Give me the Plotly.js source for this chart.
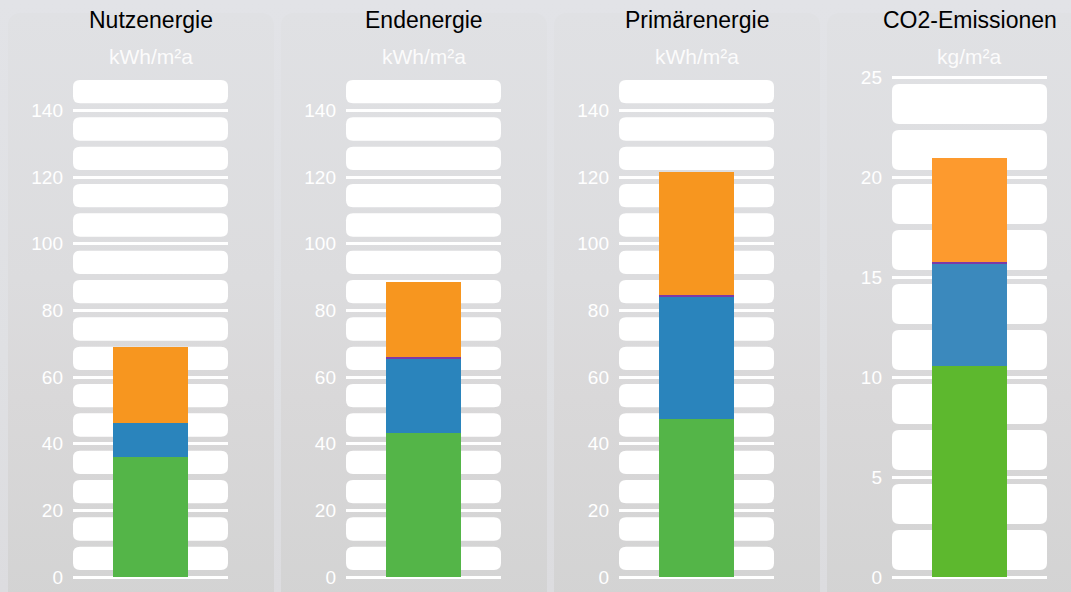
<!DOCTYPE html>
<html>
<head>
<meta charset="utf-8">
<script src="https://cdn.plot.ly/plotly-3.0.1.min.js"></script>
<style>
  html, body { margin: 0; padding: 0; }
  body { width: 1071px; height: 592px; overflow: hidden; position: relative;
         background: linear-gradient(to bottom, #e2e3e7 0%, #dfe0e3 60%, #dcdcdf 100%); }
  .panel { position: absolute; top: 13px; width: 266px; height: 590px; border-radius: 12px;
           background: linear-gradient(to bottom, #e0e1e4 0%, #dcdcde 45%, #d9d8d9 65%, #d3d3d3 100%); }
  #chart { position: absolute; left: 0; top: 0; width: 1071px; height: 592px; }
</style>
</head>
<body>
<div class="panel" style="left:8px"></div>
<div class="panel" style="left:281px"></div>
<div class="panel" style="left:554px"></div>
<div class="panel" style="left:827px"></div>
<div id="chart"></div>
<script>
// ---- data ----
const categories = ['Nutzenergie', 'Endenergie', 'Primärenergie', 'CO2-Emissionen'];
const units = ['kWh/m²a', 'kWh/m²a', 'kWh/m²a', 'kg/m²a'];
const greenVals  = [35.9, 43.2, 47.4, 10.55];
const blueVals   = [10.3, 22.1, 36.7, 5.1];
const purpleVals = [0.0, 0.6, 0.5, 0.12];
const orangeVals = [22.8, 22.6, 36.9, 5.18];
const kwhTicks = [0, 20, 40, 60, 80, 100, 120, 140];
const co2Ticks = [0, 5, 10, 15, 20, 25];
const axisMax = [150, 150, 150, 25];

// ---- styles ----
const greenCols  = ['#54b548', '#54b548', '#54b548', '#5db82e'];
const blueCols   = ['#2a84bc', '#2a84bc', '#2a84bc', '#3b89bd'];
const purpleCols = ['#7d3aa6', '#7d3aa6', '#7d3aa6', '#7d3aa6'];
const orangeCols = ['#f7961f', '#f7961f', '#f7961f', '#fd9a2e'];

const W = 1071, H = 592;
const axLeft = [73, 346, 619, 892];
const axWidth = 155;
const edgePad = 3;                 // px of extra room so edge grid lines are drawn
const valTop = 77, valBot = 577;   // pixel rows of axis max and zero
const mTop = valTop - edgePad, mBot = H - valBot - edgePad;
const plotH = H - mTop - mBot;
const valH = valBot - valTop;

const traces = [];
const layout = {
  width: W, height: H,
  margin: {l: 0, r: 0, t: mTop, b: mBot, pad: 0},
  paper_bgcolor: 'rgba(0,0,0,0)',
  plot_bgcolor: 'rgba(0,0,0,0)',
  barmode: 'stack',
  bargap: 0.516,
  showlegend: false,
  shapes: [],
  annotations: []
};

const series = [
  {name: 'grün', vals: greenVals, cols: greenCols},
  {name: 'blau', vals: blueVals, cols: blueCols},
  {name: 'violett', vals: purpleVals, cols: purpleCols},
  {name: 'orange', vals: orangeVals, cols: orangeCols}
];

function roundedPath(x0, x1, y0, y1, rx, ry) {
  return `M${x0 + rx},${y0} L${x1 - rx},${y0} Q${x1},${y0} ${x1},${y0 + ry} ` +
         `L${x1},${y1 - ry} Q${x1},${y1} ${x1 - rx},${y1} L${x0 + rx},${y1} ` +
         `Q${x0},${y1} ${x0},${y1 - ry} L${x0},${y0 + ry} Q${x0},${y0} ${x0 + rx},${y0} Z`;
}

categories.forEach((cat, i) => {
  const n = i + 1;
  const xa = 'x' + (n === 1 ? '' : n);
  const ya = 'y' + (n === 1 ? '' : n);
  const xKey = 'xaxis' + (n === 1 ? '' : n);
  const yKey = 'yaxis' + (n === 1 ? '' : n);
  const ticks = i === 3 ? co2Ticks : kwhTicks;
  const step = ticks[1] - ticks[0];
  const half = step / 2;
  const maxV = axisMax[i];
  const pxPerUnit = valH / maxV;
  const padU = edgePad / pxPerUnit;

  series.forEach(s => {
    traces.push({
      type: 'bar', x: [cat], y: [s.vals[i]], name: s.name,
      xaxis: xa, yaxis: ya,
      marker: {color: s.cols[i], line: {width: 0}},
      hoverinfo: 'skip'
    });
  });

  layout[xKey] = {
    domain: [axLeft[i] / W, (axLeft[i] + axWidth) / W],
    anchor: ya, type: 'category',
    showticklabels: false, showgrid: false, zeroline: false, showline: false, ticks: '',
    fixedrange: true
  };
  layout[yKey] = {
    domain: [0, 1], anchor: xa, range: [-padU, maxV + padU],
    tickvals: ticks, ticktext: ticks.map(String),
    showgrid: true, gridcolor: '#ffffff', gridwidth: 3,
    zeroline: false, showline: false, ticks: '',
    ticklabelstandoff: 9,
    tickfont: {family: 'Liberation Sans, Arial, sans-serif', size: 19, color: '#ffffff'},
    fixedrange: true
  };

  // decorative white rounded bands between grid lines
  const gridInset = 7 / pxPerUnit, midInset = 3 / pxPerUnit;
  const ry = 7 / pxPerUnit, rx = 7 / axWidth;
  const nBands = Math.round(maxV / half);
  for (let k = 0; k < nBands; k++) {
    const lo = k * half, hi = (k + 1) * half;
    const loIsGrid = (k % 2 === 0);
    const y0 = lo + (loIsGrid ? gridInset : midInset);
    const y1 = hi - (loIsGrid ? midInset : gridInset);
    layout.shapes.push({
      type: 'path', xref: xa + ' domain', yref: ya, layer: 'below',
      path: roundedPath(0, 1, y0, y1, rx, ry),
      fillcolor: '#ffffff', line: {width: 0}
    });
  }

  const cx = (axLeft[i] + axWidth / 2) / W;
  layout.annotations.push({
    xref: 'paper', yref: 'paper', x: cx, y: 1 + (mTop - 20) / plotH, yanchor: 'middle', xanchor: 'center',
    text: cat, showarrow: false,
    font: {family: 'Liberation Sans, Arial, sans-serif', size: 23, color: '#000000'}
  });
  layout.annotations.push({
    xref: 'paper', yref: 'paper', x: cx, y: 1 + (mTop - 57) / plotH, yanchor: 'middle', xanchor: 'center',
    text: units[i], showarrow: false,
    font: {family: 'Liberation Sans, Arial, sans-serif', size: 21, color: 'rgba(255,255,255,0.9)'}
  });
});

Plotly.newPlot('chart', traces, layout, {staticPlot: true, displayModeBar: false});
</script>
</body>
</html>
